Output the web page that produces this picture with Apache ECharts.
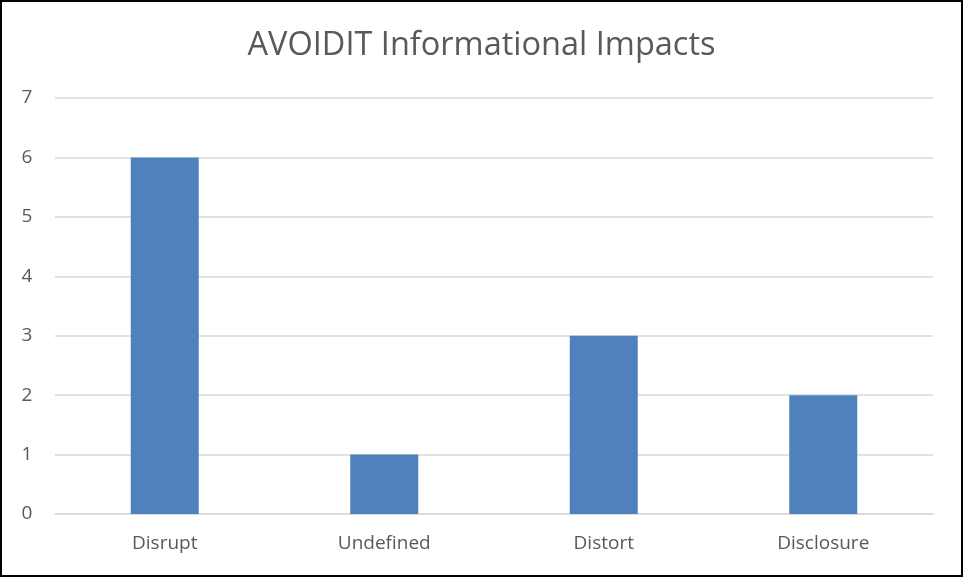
<!DOCTYPE html>
<html><head><meta charset="utf-8">
<script src="https://cdn.jsdelivr.net/npm/echarts@6/dist/echarts.min.js"></script>
<style>html,body{margin:0;padding:0;background:#fff}#c{width:963px;height:577px}</style>
</head><body><div id="c"></div>
<script>
const categories = ["Disrupt", "Undefined", "Distort", "Disclosure"];
const values = [6, 1, 3, 2];
const titleText = "AVOIDIT Informational Impacts";
const font = "'Open Sans', 'Noto Sans', sans-serif";
const chart = echarts.init(document.getElementById('c'), null, {renderer: 'canvas'});
chart.setOption({
  animation: false,
  backgroundColor: '#fff',
  title: {text: titleText, left: 'center', top: 24,
    textStyle: {fontFamily: font, fontSize: 32.5, fontWeight: 'normal', color: '#595959'}},
  grid: {left: 55, right: 30, top: 98, bottom: 63},
  xAxis: {type: 'category', data: categories,
    axisLine: {lineStyle: {color: '#d9d9d9', width: 1.5}}, axisTick: {show: false},
    axisLabel: {fontFamily: font, fontSize: 19, color: '#595959', margin: 20}},
  yAxis: {type: 'value', min: 0, max: 7, interval: 1,
    axisLine: {show: false}, axisTick: {show: false},
    splitLine: {lineStyle: {color: '#d9d9d9', width: 1.5}},
    axisLabel: {fontFamily: font, fontSize: 19, color: '#595959', margin: 28, align: 'center'}},
  series: [{type: 'bar', data: values, barWidth: 68,
    itemStyle: {color: '#4f81bd'}}],
  graphic: [{type: 'rect', shape: {x: 1, y: 1, width: 961, height: 575},
    style: {fill: 'none', stroke: '#000', lineWidth: 2}, z: 100}]
});
</script></body></html>
